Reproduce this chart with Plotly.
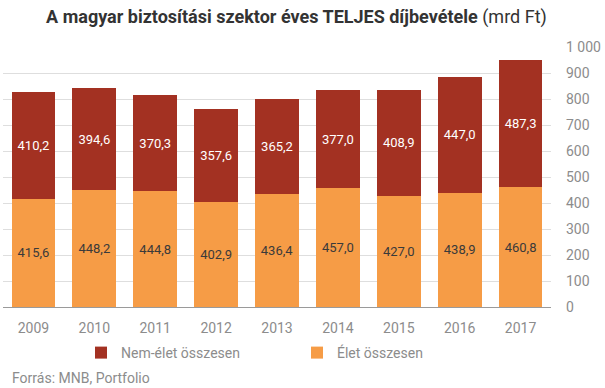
import plotly.graph_objects as go

years = ["2009", "2010", "2011", "2012", "2013", "2014", "2015", "2016", "2017"]
elet = [415.6, 448.2, 444.8, 402.9, 436.4, 457.0, 427.0, 438.9, 460.8]
nem_elet = [410.2, 394.6, 370.3, 357.6, 365.2, 377.0, 408.9, 447.0, 487.3]
y_ticks = [0, 100, 200, 300, 400, 500, 600, 700, 800, 900, 1000]

C_NEM = "#A33122"
C_ELET = "#F69C46"
GREY = "#8c8c8c"

fig = go.Figure()
fig.add_trace(go.Bar(
    x=years, y=elet, name="Élet összesen", marker_color=C_ELET,
    marker_line_width=0,
    texttemplate="%{y:.1f}", textposition="inside", insidetextanchor="middle",
    textfont=dict(family="Roboto", size=13, color="#3a3a3a"),
    hoverinfo="skip",
))
fig.add_trace(go.Bar(
    x=years, y=nem_elet, name="Nem-élet összesen", marker_color=C_NEM,
    marker_line_width=0,
    texttemplate="%{y:.1f}", textposition="inside", insidetextanchor="middle",
    textfont=dict(family="Roboto", size=13, color="#ffffff"),
    hoverinfo="skip",
))

fig.update_layout(
    width=605, height=388,
    barmode="stack", bargap=0.28,
    separators=", ",
    plot_bgcolor="white", paper_bgcolor="white",
    margin=dict(l=2.5, r=53.5, t=46.7, b=81.3, autoexpand=False),
    font=dict(family="Roboto", color=GREY, size=14),
    title=dict(
        text="<b>A magyar biztosítási szektor éves TELJES díjbevétele</b> (mrd Ft)",
        x=0.49, xref="container", xanchor="center",
        y=1 - 17 / 388, yref="container", yanchor="middle",
        font=dict(family="Roboto", size=18, color="#333333"),
    ),
    showlegend=True,
    legend=dict(
        orientation="h", traceorder="reversed",
        x=81 / 605, xref="container", xanchor="left",
        y=1 - 353 / 388, yref="container", yanchor="middle",
        entrywidth=171, entrywidthmode="pixels",
        font=dict(family="Roboto", size=14, color=GREY),
        bgcolor="rgba(0,0,0,0)",
    ),
    annotations=[dict(
        text="Forrás: MNB, Portfolio",
        xref="paper", yref="paper", x=(10 - 2.5) / 549, y=(306.7 - 378) / 260,
        xanchor="left", yanchor="middle", showarrow=False,
        font=dict(family="Roboto", size=14, color=GREY),
    )],
)

fig.update_xaxes(
    showgrid=False, showline=True, linecolor="#9a9a9a", linewidth=1,
    ticks="", tickfont=dict(size=14, color=GREY), ticklabelstandoff=8,
    automargin=False,
)
fig.update_yaxes(
    side="right", range=[0, 1000], tickvals=y_ticks, separatethousands=True,
    showgrid=True, gridcolor="#dedede", gridwidth=1, zeroline=False,
    showline=False, ticks="", ticklabelstandoff=14,
    tickfont=dict(size=14, color=GREY), automargin=False,
)

fig.write_html(
    "out.html",
    config={"displayModeBar": False},
    post_script="document.body.style.margin='0';document.body.style.padding='0';",
)
